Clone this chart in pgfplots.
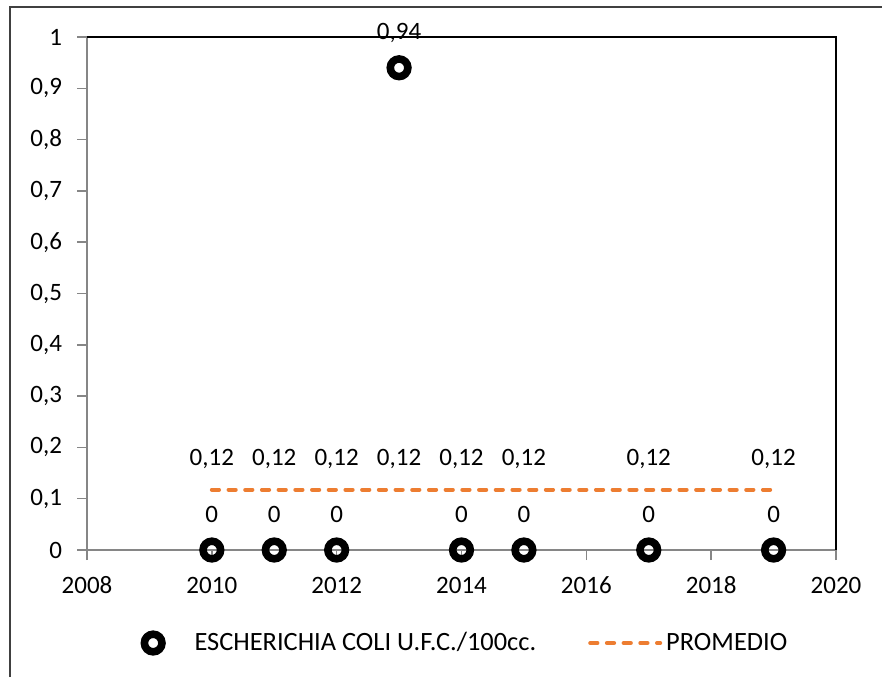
\documentclass[border=0pt]{standalone}
\usepackage{pgfplots}
\pgfplotsset{compat=1.18}
\usepackage{fontspec}
\setmainfont{Carlito}
\definecolor{promorange}{HTML}{ED7D31}
\definecolor{axgray}{HTML}{868686}
\newcommand{\cf}{\fontsize{12.5}{15}\selectfont}
\newcommand{\lf}{\fontsize{13.2}{16}\selectfont}
\pgfplotsset{
  promlegend/.style={legend image code/.code={\draw[##1] (0pt,0pt) -- (35pt,0pt);}},
  ecolegend/.style={legend image code/.code={\path (-7pt,0pt) (18.5pt,0pt);\draw[##1] plot coordinates {(0pt,0pt)};}}
}
\begin{document}
\begin{tikzpicture}
\useasboundingbox (-43.5pt,-63.5pt) rectangle (397.5pt,275pt);
\draw[line width=1pt, color=black!75] (-38.5pt,-63.5pt) -- (-38.5pt,271.5pt) -- (397.5pt,271.5pt);
\begin{axis}[
  at={(0,0)}, anchor=south west,
  scale only axis, width=374.5pt, height=256.5pt,
  xmin=2008, xmax=2020, ymin=0, ymax=1,
  xtick={2008,2010,2012,2014,2016,2018,2020},
  ytick={0,0.1,0.2,0.3,0.4,0.5,0.6,0.7,0.8,0.9,1},
  axis x line*=bottom, axis y line*=left,
  axis line style={axgray, line width=0.75pt},
  tick style={axgray, line width=0.75pt},
  tick align=outside, major tick length=5pt,
  /pgf/number format/assume math mode=true,
  /pgf/number format/use comma,
  /pgf/number format/1000 sep={},
  tick label style={font=\cf},
  xticklabel style={yshift=-5pt, text height=8pt, text depth=1pt},
  yticklabel style={xshift=-4pt},
  clip=false,
  legend columns=2,
  legend style={draw=none, font=\lf, at={(0.5047,-0.1813)}, anchor=center,
    /tikz/every even column/.append style={column sep=24pt}},
]
\addplot[only marks, mark=o, mark size=4.4pt, mark options={line width=3.8pt, draw=black}, ecolegend,
  nodes near coords, every node near coord/.append style={font=\cf, anchor=base, yshift=14pt, black}]
  coordinates {(2010,0) (2011,0) (2012,0) (2013,0.94) (2014,0) (2015,0) (2017,0) (2019,0)};
\addlegendentry{ESCHERICHIA COLI U.F.C./100cc.}
\addplot[promorange, line width=2pt, line cap=round, dash pattern=on 3.6pt off 4.75pt,
  mark=none, promlegend,
  nodes near coords, /pgf/number format/fixed, /pgf/number format/precision=2,
  every node near coord/.append style={font=\cf, anchor=base, yshift=12pt, black}]
  coordinates {(2010,0.1175) (2011,0.1175) (2012,0.1175) (2013,0.1175) (2014,0.1175) (2015,0.1175) (2017,0.1175) (2019,0.1175)};
\addlegendentry{PROMEDIO}
\draw[black, line width=0.75pt] (rel axis cs:0,1) -- (rel axis cs:1,1) -- (rel axis cs:1,0);
\end{axis}
\end{tikzpicture}
\end{document}
